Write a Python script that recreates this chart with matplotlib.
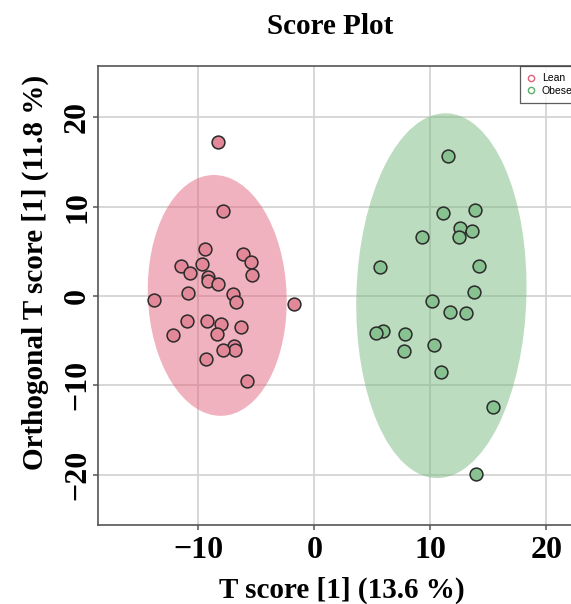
import matplotlib.pyplot as plt
from matplotlib.patches import Ellipse
from matplotlib.lines import Line2D

# OPLS-DA scores, predictive component vs first orthogonal component
lean_x = [-8.33, -7.87, -9.45, -6.17, -5.48, -11.47, -9.68, -10.74, -5.34, -9.16,
          -9.19, -8.30, -10.86, -7.03, -6.75, -13.79, -1.72, -10.95, -9.28, -8.02,
          -6.35, -8.39, -12.16, -6.90, -6.84, -7.87, -9.34, -5.80]
lean_y = [17.2, 9.52, 5.23, 4.67, 3.77, 3.32, 3.55, 2.61, 2.39, 2.16,
          1.68, 1.31, 0.34, 0.26, -0.67, -0.45, -0.93, -2.76, -2.76, -3.14,
          -3.51, -4.26, -4.37, -5.56, -6.01, -6.08, -7.05, -9.48]

obese_x = [11.50, 11.12, 13.85, 12.59, 13.57, 12.45, 9.31, 5.69, 14.20, 13.79,
           10.12, 11.67, 13.10, 5.95, 5.32, 7.84, 10.34, 7.76, 10.92, 15.40, 13.94]
obese_y = [15.71, 9.26, 9.60, 7.58, 7.28, 6.61, 6.61, 3.21, 3.39, 0.48,
           -0.52, -1.83, -1.94, -3.92, -4.11, -4.26, -5.45, -6.12, -8.55, -12.43, -19.93]

# 95% confidence ellipses: centre, full width, full height, rotation (deg)
lean_ellipse = (-8.37, 0.06, 11.96, 26.98, 1.5)
obese_ellipse = (10.95, 0.03, 14.66, 40.86, -1.15)

groups = ['Lean', 'Obese']
fill_colors = ['#e2667e', '#7aba80']
point_colors = ['#e28898', '#88c291']
legend_colors = ['#e0607a', '#5cae6a']

plt.rcParams['font.family'] = ['Liberation Serif', 'DejaVu Serif']

fig = plt.figure(figsize=(5.71, 6.04), dpi=100)
ax = fig.add_axes([0.1716, 0.1308, 0.8442, 0.7599])

ax.set_xlim(-18.65, 22.9)
ax.set_ylim(-25.65, 25.75)
ax.set_xticks([-10, 0, 10, 20])
ax.set_yticks([-20, -10, 0, 10, 20])
ax.grid(True, color='#d4d4d4', linewidth=1.3)
ax.set_axisbelow(True)

for (cx, cy, w, h, ang), col in zip([lean_ellipse, obese_ellipse], fill_colors):
    ax.add_patch(Ellipse((cx, cy), w, h, angle=ang, facecolor=col,
                         edgecolor='none', alpha=0.5, zorder=1))

for xs, ys, col in zip([lean_x, obese_x], [lean_y, obese_y], point_colors):
    ax.scatter(xs, ys, s=85, facecolor=col, edgecolor='#2a2a2a',
               linewidth=1.1, zorder=3)

for side in ['left', 'bottom', 'top', 'right']:
    ax.spines[side].set_color('#555555')
    ax.spines[side].set_linewidth(1.2)

ax.tick_params(axis='both', direction='out', length=3.5, width=1.1,
               color='#555555', labelsize=23)
ax.tick_params(axis='x', pad=4.2)
ax.tick_params(axis='y', pad=0.8)
for lab in ax.get_xticklabels() + ax.get_yticklabels():
    lab.set_fontweight('bold')
for lab in ax.get_yticklabels():
    lab.set_rotation(90)
    lab.set_va('center')

ax.set_xlabel('T score [1] (13.6 %)', fontsize=21, fontweight='bold')
ax.xaxis.set_label_coords(0.506, -0.142)
ax.xaxis.label.set_va('center')
ax.set_ylabel('Orthogonal T score [1] (11.8 %)', fontsize=21, fontweight='bold')
ax.yaxis.set_label_coords(-0.131, 0.551)
ax.yaxis.label.set_va('center')

fig.text(330 / 571, 1 - 27 / 604, 'Score Plot', fontsize=21, fontweight='bold',
         ha='center', va='center')

handles = [Line2D([], [], marker='o', linestyle='none', markerfacecolor='none',
                  markeredgecolor=c, markersize=4.5, markeredgewidth=1.0)
           for c in legend_colors]
leg = ax.legend(handles, groups, loc='upper right', borderaxespad=0,
                prop={'family': 'Liberation Sans', 'size': 7.5},
                frameon=True, fancybox=False, handlelength=0.8,
                handletextpad=0.6, borderpad=0.7, labelspacing=0.25)
leg.get_frame().set_edgecolor('#333333')
leg.get_frame().set_linewidth(0.9)

fig.savefig('out.png', dpi=100)
